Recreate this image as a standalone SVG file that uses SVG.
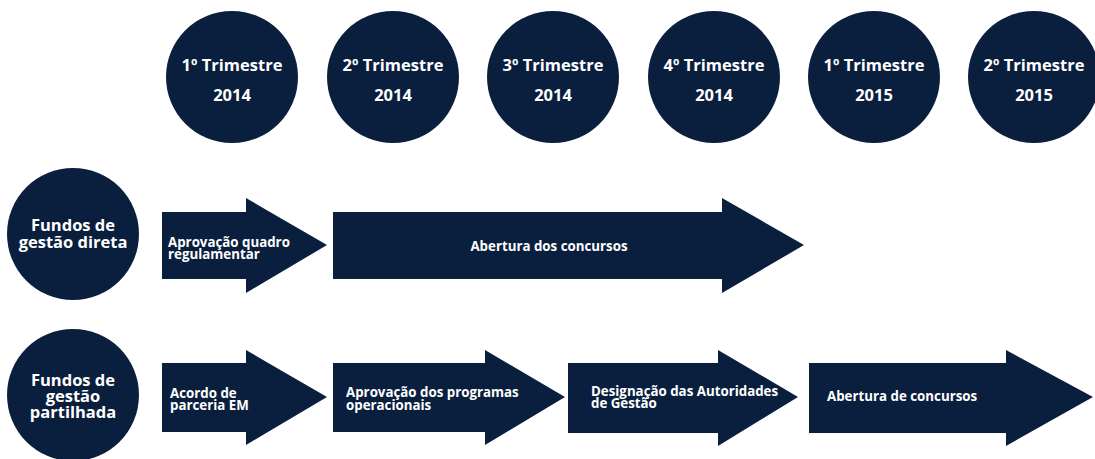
<svg xmlns="http://www.w3.org/2000/svg" width="1095" height="459" viewBox="0 0 1095 459">
<style>
.c{fill:#0a1f3e}
.a{fill:#0a1f3e}
.t{font-family:"Open Sans",sans-serif;font-weight:bold;fill:#fff}
.q{font-size:16.5px;text-anchor:middle}
.f{font-size:16.5px;text-anchor:middle}
.l{font-size:13.3px}
</style>
<rect width="1095" height="459" fill="#fff"/>
<g id="q1"><circle class="c" cx="232" cy="77" r="66"/><text class="t q" x="232" y="71">1º Trimestre</text><text class="t q" x="232" y="101">2014</text></g>
<g id="q2"><circle class="c" cx="393" cy="77" r="66"/><text class="t q" x="393" y="71">2º Trimestre</text><text class="t q" x="393" y="101">2014</text></g>
<g id="q3"><circle class="c" cx="553" cy="77" r="66"/><text class="t q" x="553" y="71">3º Trimestre</text><text class="t q" x="553" y="101">2014</text></g>
<g id="q4"><circle class="c" cx="714" cy="77" r="66"/><text class="t q" x="714" y="71">4º Trimestre</text><text class="t q" x="714" y="101">2014</text></g>
<g id="q5"><circle class="c" cx="874" cy="77" r="66"/><text class="t q" x="874" y="71">1º Trimestre</text><text class="t q" x="874" y="101">2015</text></g>
<g id="q6"><circle class="c" cx="1034" cy="77" r="66"/><text class="t q" x="1034" y="71">2º Trimestre</text><text class="t q" x="1034" y="101">2015</text></g>
<g id="direta"><circle class="c" cx="73" cy="234" r="66"/><text class="t f" x="73" y="231">Fundos de</text><text class="t f" x="73" y="248">gestão direta</text></g>
<g id="partilhada"><circle class="c" cx="73" cy="395" r="66"/><text class="t f" x="73" y="386">Fundos de</text><text class="t f" x="73" y="402">gestão</text><text class="t f" x="73" y="418">partilhada</text></g>
<g id="connectors">
<g id="a1"><polygon class="a" points="162,212 246,212 246,198 327,245 246,293 246,279 162,279"/><text class="t l" x="168" y="246.5">Aprovação quadro</text><text class="t l" x="168" y="259">regulamentar</text></g>
<g id="a2"><polygon class="a" points="333,212 722,212 722,198 804,245 722,293 722,279 333,279"/><text class="t l" x="549" y="251" text-anchor="middle">Abertura dos concursos</text></g>
<g id="b1"><polygon class="a" points="162,363 246,363 246,350 327,397 246,445 246,432 162,432"/><text class="t l" x="170" y="397.5">Acordo de</text><text class="t l" x="170" y="410">parceria EM</text></g>
<g id="b2"><polygon class="a" points="333,363 485,363 485,350 565,397 485,445 485,432 333,432"/><text class="t l" x="346" y="397">Aprovação dos programas</text><text class="t l" x="346" y="409.5">operacionais</text></g>
<g id="b3"><polygon class="a" points="568,363 718,363 718,350 798,397 718,446 718,433 568,433"/><text class="t l" x="591" y="395.5">Designação das Autoridades</text><text class="t l" x="591" y="408">de Gestão</text></g>
<g id="b4"><polygon class="a" points="809,363 1006,363 1006,350 1093,397 1006,446 1006,433 809,433"/><text class="t l" x="827" y="401">Abertura de concursos</text></g>
</g>
</svg>
